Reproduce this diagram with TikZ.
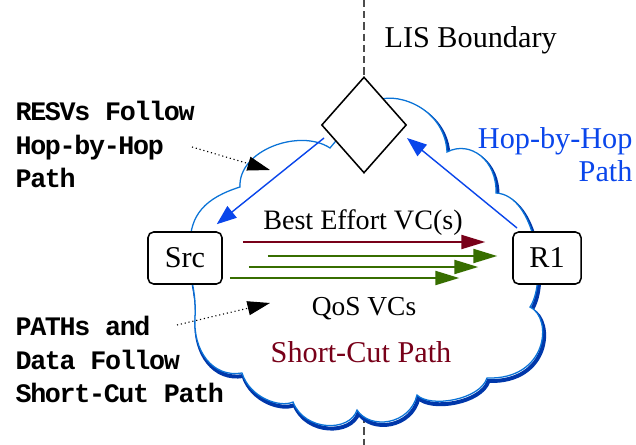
\documentclass[tikz,border=0pt]{standalone}
\usepackage[dvipsnames]{xcolor}
\usepackage{fontspec}
\setmainfont{Liberation Serif}
\newfontfamily\notefont[LetterSpace=-5]{Liberation Mono}
\usetikzlibrary{shapes.geometric,arrows.meta}

\definecolor{cloudblue}{RGB}{10,115,215}
\definecolor{cloudshade}{RGB}{0,55,170}
\definecolor{hopblue}{RGB}{10,70,235}
\definecolor{bemaroon}{RGB}{120,0,25}
\definecolor{qosgreen}{RGB}{55,110,0}

% outline of the cloud, open at the LIS diamond
\newcommand\cloudoutline{(378,100) .. controls (400,92) and (445,110) .. (447,152)
  .. controls (470,140) and (497,160) .. (496,193)
  .. controls (535,195) and (548,280) .. (530,307)
  .. controls (553,318) and (548,380) .. (487,378)
  .. controls (480,400) and (430,408) .. (417,395)
  .. controls (410,425) and (370,430) .. (357,410)
  .. controls (350,432) and (305,432) .. (293,402)
  .. controls (280,408) and (250,398) .. (242,373)
  .. controls (212,378) and (193,350) .. (195,318)
  .. controls (196,300) and (194,292) .. (190,270) -- (190,245)
  .. controls (190,215) and (205,198) .. (240,187)
  .. controls (238,150) and (300,128) .. (330,148) -- (340,136)}

\begin{document}
\begin{tikzpicture}[x=0.025cm,y=-0.025cm,>={Triangle[length=14pt,width=10.5pt]},thick,
    box node/.style={rectangle,rounded corners=4pt,draw,fill=white,line width=1.1pt,minimum height=37pt,inner sep=0pt,font=\fontsize{21.5}{26}\selectfont},
    lis node/.style={diamond,draw,fill=white,line width=1.1pt,minimum width=60.4pt,minimum height=68.3pt,inner sep=0pt},
    note node/.style={anchor=north west,inner sep=0pt,align=left,font=\notefont\bfseries\fontsize{19}{23.8}\selectfont},
    text node/.style={inner sep=0pt,font=\fontsize{21.5}{23.5}\selectfont},
    vc node/.style={inner sep=0pt,anchor=base,font=\fontsize{20}{24}\selectfont},
    hop arrow/.style={->,draw=hopblue,fill=hopblue,line width=1pt},
    vc arrow/.style={-{Triangle[length=17pt,width=10pt]},line width=1.4pt},
    note arrow/.style={-{Triangle[length=16pt,width=10pt]},dotted,line width=0.8pt}]

    \useasboundingbox (0,0) rectangle (636,445);

    % LIS boundary and cloud
    \draw[dash pattern=on 5pt off 3pt,line width=0.9pt,black!70] (364,0) -- (364,445);
    \draw[cloudshade,line width=2.8pt,shift={(1.5,3)}] \cloudoutline;
    \fill[white] \cloudoutline -- cycle;
    \draw[cloudblue,line width=0.9pt] \cloudoutline;

    \node[lis node] (lis) at (364,125) {};
    \node[box node,minimum width=52.6pt] (src) at (185,258) {Src};
    \node[box node,minimum width=48.4pt] (r1) at (547,258) {R1};

    % free ends of the connectors
    \coordinate (lisout) at (324,138);
    \coordinate (lisin) at (407,138);
    \coordinate (r1out) at (517,228);
    \coordinate (resvend) at (192,147);
    \coordinate (resvtip) at (270,170);
    \coordinate (pathend) at (177,325);
    \coordinate (pathtip) at (270,303);

    \path
        (lisout) edge[hop arrow] ([shift={(-6,-7)}]src.north east)
        (r1out) edge[hop arrow] (lisin)
        ;
    \path
        ([shift={(20,-16)}]src.east) edge[vc arrow,bemaroon] ([shift={(-27,-16)}]r1.west)
        ([shift={(45,-2)}]src.east) edge[vc arrow,qosgreen] ([shift={(-15,-2)}]r1.west)
        ([shift={(26,9)}]src.east) edge[vc arrow,qosgreen] ([shift={(-34,9)}]r1.west)
        ([shift={(7,20)}]src.east) edge[vc arrow,qosgreen] ([shift={(-53,20)}]r1.west)
        ;
    \path
        (resvend) edge[note arrow] (resvtip)
        (pathend) edge[note arrow] (pathtip)
        ;

    % labels
    \node[text node,anchor=base west] (lislabel) at (384,48) {LIS Boundary};
    \node[text node,anchor=north east,align=right,text=hopblue] (hoplabel) at (633,126.5) {Hop-by-Hop\\Path};
    \node[vc node] (belabel) at (363,229) {Best Effort VC(s)};
    \node[vc node,font=\fontsize{19.5}{24}\selectfont] (qoslabel) at (364,315) {QoS VCs};
    \node[text node,anchor=base,text=bemaroon] (sclabel) at (361,362) {Short-Cut Path};
    \node[note node] (resv) at (15,101) {RESVs Follow\\Hop-by-Hop\\Path};
    \node[note node] (pathdata) at (15,316) {PATHs and\\Data Follow\\Short-Cut Path};
\end{tikzpicture}
\end{document}
